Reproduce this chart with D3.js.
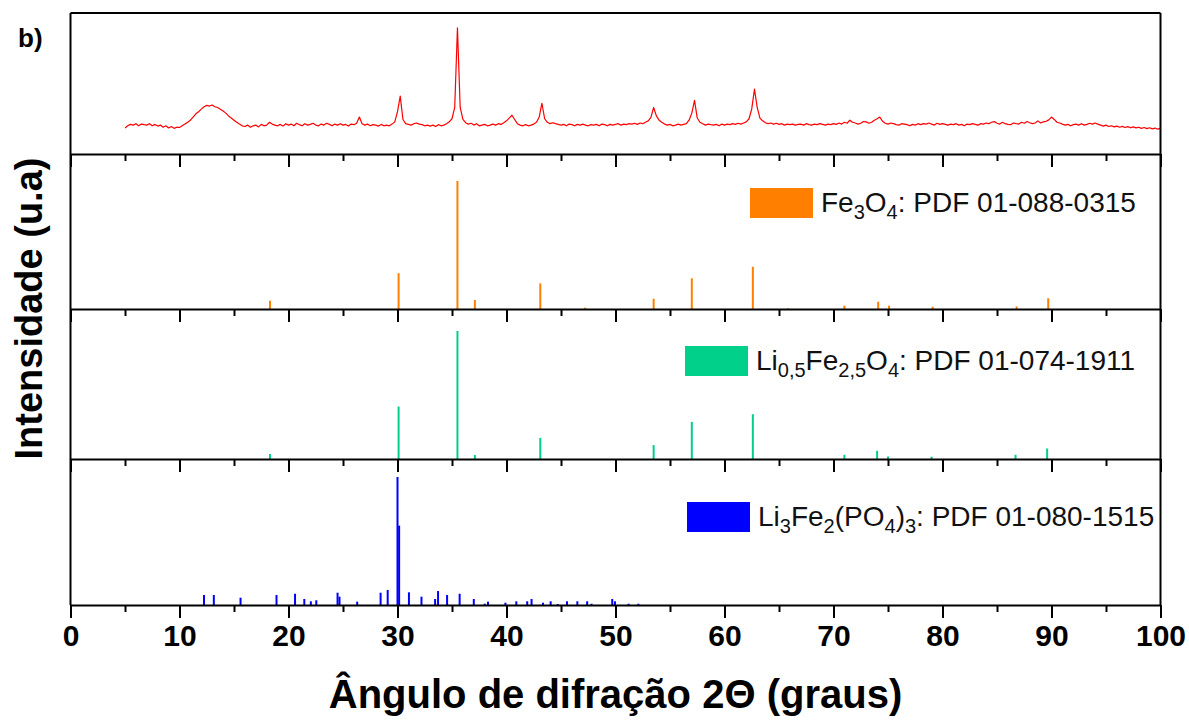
<!DOCTYPE html>
<html>
<head>
<meta charset="utf-8">
<script src="https://cdn.jsdelivr.net/npm/d3@7"></script>
<style>
  html, body { margin: 0; padding: 0; background: #fff; }
  svg { display: block; font-family: "Liberation Sans", Arial, sans-serif; }
</style>
</head>
<body>
<svg id="chart" width="1189" height="720"></svg>
<script>
// Difratograma experimental (vermelho): 5° a 100°, passo 0,25°
const expStart = 5, expStep = 0.25;
const expIntensity = [
  185, 200, 210, 205,  215, 200, 212, 208,  205, 215, 200, 210,  198, 205, 190, 200,  185, 195, 182, 190,
  188, 200, 212, 225,  240, 262, 285, 300,  318, 335, 345, 340,  348, 335, 330, 318,  305, 290, 270, 255,
  240, 225, 212, 200,  195, 205, 190, 200,  205, 192, 210, 200,  205, 225, 212, 205,  200, 210, 198, 215,
  205, 212, 200, 218,  208, 200, 215, 205,  210, 218, 205, 200,  212, 205, 218, 210,  200, 212, 205, 215,
  205, 210, 198, 212,  208, 218, 262, 215,  205, 212, 200, 208,  205, 198, 210, 200,  205, 200, 212, 228,
  300, 410, 245, 215,  210, 205, 215, 220,  212, 208, 200, 205,  198, 205, 195, 208,  200, 205, 215, 228,
  250, 330, 895, 330,  245, 222, 212, 218,  205, 215, 200, 205,  210, 200, 205, 212,  205, 215, 210, 222,
  235, 255, 275, 245,  215, 205, 200, 208,  200, 205, 212, 225,  262, 360, 250, 225,  215, 222, 215, 210,
  205, 210, 200, 212,  208, 200, 210, 205,  212, 205, 200, 208,  205, 210, 200, 212,  208, 200, 210, 205,
  210, 215, 205, 212,  208, 215, 212, 218,  210, 220, 215, 225,  235, 260, 330, 270,  240, 225, 212, 205,
  210, 200, 205, 212,  205, 210, 215, 240,  290, 380, 255, 225,  215, 205, 212, 208,  205, 210, 200, 212,
  205, 212, 208, 215,  210, 218, 212, 220,  228, 250, 320, 460,  330, 255, 235, 222,  215, 220, 212, 218,
  210, 215, 205, 212,  208, 212, 205, 210,  212, 205, 215, 208,  205, 212, 208, 215,  210, 205, 212, 208,
  215, 210, 220, 212,  225, 218, 240, 225,  220, 212, 218, 230,  228, 218, 225, 240,  250, 262, 232, 218,
  212, 220, 215, 208,  205, 215, 212, 208,  200, 210, 205, 215,  208, 215, 212, 220,  212, 205, 218, 210,
  215, 210, 205, 212,  208, 215, 205, 210,  200, 212, 208, 215,  210, 205, 215, 212,  220, 215, 225, 230,
  218, 212, 225, 215,  210, 208, 220, 215,  212, 225, 218, 230,  222, 215, 220, 235,  220, 228, 232, 242,
  262, 245, 225, 220,  212, 205, 210, 200,  208, 212, 205, 215,  205, 210, 218, 212,  220, 212, 205, 198,
  205, 195, 200, 192,  198, 190, 196, 188,  194, 186, 192, 185,  190, 182, 188, 180,  186, 178, 184, 176,
  182
];

// Fe3O4: PDF 01-088-0315 (posição 2θ, intensidade relativa)
const fe3o4Angle = [18.3, 30.1, 35.5, 37.1, 43.1, 47.2, 53.5, 57.0, 62.6, 65.8, 71.0, 74.1, 75.1, 79.1, 86.8, 89.7];
const fe3o4Int   = [6.5, 28, 100, 7, 20, 1, 8, 24, 33, 0.5, 2.6, 5.7, 2.6, 1.8, 2, 8.4];

// Li0,5Fe2,5O4: PDF 01-074-1911
const lifeAngle = [18.3, 30.1, 35.5, 37.1, 43.1, 53.5, 57.0, 62.6, 71.0, 74.0, 75.0, 79.0, 86.7, 89.6];
const lifeInt   = [3.9, 41, 100, 3.1, 16.5, 10.9, 29, 35, 3.3, 6.4, 2, 1.8, 3.3, 8.2];

// Li3Fe2(PO4)3: PDF 01-080-1515
const lfpAngle = [12.25, 13.15, 15.6, 18.9, 20.6, 21.45, 22.05, 22.55, 24.5, 24.68, 26.3, 28.45, 29.1, 30.0, 30.15,
                  31.05, 32.2, 33.45, 33.72, 34.55, 35.7, 37.0, 38.0, 38.3, 39.9, 40.9, 41.9, 42.3, 43.35, 44.05,
                  44.7, 45.55, 46.5, 47.4, 47.8, 49.7, 49.95, 51.2, 52.1];
const lfpInt   = [7.8, 7.8, 5.7, 7.8, 8.8, 4.7, 2.9, 3.7, 9.6, 6.5, 2.6, 9.6, 11.7, 100, 62,
                  9.9, 6.5, 4.7, 10.9, 7.8, 8.8, 4.7, 1, 2.6, 1.8, 2.9, 2.9, 4.7, 1.8, 2.9,
                  0.8, 2.9, 2.9, 2.9, 1, 4.7, 2.9, 1, 1];

// Legendas (texto, subscrito?)
const legendPhases = [
  [["Fe", 0], ["3", 1], ["O", 0], ["4", 1], [": PDF 01-088-0315", 0]],
  [["Li", 0], ["0,5", 1], ["Fe", 0], ["2,5", 1], ["O", 0], ["4", 1], [": PDF 01-074-1911", 0]],
  [["Li", 0], ["3", 1], ["Fe", 0], ["2", 1], ["(PO", 0], ["4", 1], [")", 0], ["3", 1], [": PDF 01-080-1515", 0]]
];
const xTicks = [0, 10, 20, 30, 40, 50, 60, 70, 80, 90, 100];

// Layout
const left = 70.5, right = 1160.5;
const bounds = [13, 154, 309, 459, 605];
const stickColors = ["#ff8000", "#00d08a", "#0000ff"];
const legendBox = [[750, 188], [685, 346], [687, 502]];

const svg = d3.select("#chart");
const x = d3.scaleLinear().domain([0, 100]).range([left, right]);

// Painel 1: curva experimental
const y0 = d3.scaleLinear().domain([0, 1000]).range([bounds[1], bounds[0]]);
const expPoints = expIntensity.map((v, i) => [expStart + i * expStep, v]);
svg.append("path")
    .datum(expPoints)
    .attr("fill", "none")
    .attr("stroke", "#ff0000")
    .attr("stroke-width", 1.2)
    .attr("stroke-linejoin", "round")
    .attr("d", d3.line().x(d => x(d[0])).y(d => y0(d[1])));

// Painéis 2-4: padrões de referência
const sticks = [
  [fe3o4Angle, fe3o4Int],
  [lifeAngle, lifeInt],
  [lfpAngle, lfpInt]
];
sticks.forEach(([ang, inten], k) => {
  const bottom = bounds[k + 2];
  const yk = d3.scaleLinear().domain([0, 100]).range([bottom, bottom - 128]);
  svg.append("g")
    .selectAll("line")
    .data(ang.map((a, i) => [a, inten[i]]))
    .join("line")
      .attr("x1", d => x(d[0]))
      .attr("x2", d => x(d[0]))
      .attr("y1", yk(0))
      .attr("y2", d => yk(d[1]))
      .attr("stroke", stickColors[k])
      .attr("stroke-width", 2);

  // legenda
  const [bx, by] = legendBox[k];
  svg.append("rect")
    .attr("x", bx).attr("y", by)
    .attr("width", 63).attr("height", 30)
    .attr("fill", stickColors[k]);
  const txt = svg.append("text")
    .attr("x", bx + 71)
    .attr("y", by + 24)
    .attr("font-size", 28)
    .attr("fill", "#111");
  let shift = 0;
  legendPhases[k].forEach(([t, sub]) => {
    const want = sub ? 7 : 0;
    txt.append("tspan")
      .attr("font-size", sub ? 20 : 28)
      .attr("dy", want - shift)
      .text(t);
    shift = want;
  });
});

// Eixos x de cada painel
bounds.slice(1).forEach((b, i) => {
  const last = i === bounds.length - 2;
  svg.append("g")
    .attr("transform", `translate(0,${b})`)
    .call(d3.axisBottom(x).tickValues(d3.range(5, 100, 10)).tickSize(7).tickFormat(""))
    .call(g => g.select(".domain").remove())
    .call(g => g.selectAll("line").attr("stroke-width", 2));
  const ax = svg.append("g")
    .attr("transform", `translate(0,${b})`)
    .call(d3.axisBottom(x).tickValues(xTicks).tickSize(13).tickSizeOuter(0)
      .tickFormat(last ? d3.format("d") : ""));
  ax.select(".domain").attr("stroke-width", 2);
  ax.selectAll("line").attr("stroke-width", 2);
  ax.selectAll("text")
    .attr("font-size", 30)
    .attr("font-weight", "bold")
    .attr("font-family", "Liberation Sans, Arial, sans-serif")
    .attr("fill", "#000")
    .attr("y", 20)
    .attr("dy", "0.71em");
});

// moldura
svg.append("line").attr("x1", left).attr("x2", right).attr("y1", bounds[0]).attr("y2", bounds[0])
  .attr("stroke", "#000").attr("stroke-width", 2);
[left, right].forEach(px => {
  svg.append("line").attr("x1", px).attr("x2", px).attr("y1", bounds[0]).attr("y2", bounds[4])
    .attr("stroke", "#000").attr("stroke-width", 2);
});

// Títulos
svg.append("text")
  .attr("x", (left + right) / 2)
  .attr("y", 708)
  .attr("text-anchor", "middle")
  .attr("font-size", 40)
  .attr("font-weight", "bold")
  .text("Ângulo de difração 2Θ (graus)");

svg.append("text")
  .attr("transform", `translate(42,${(bounds[1] + bounds[3]) / 2 + 2}) rotate(-90)`)
  .attr("text-anchor", "middle")
  .attr("font-size", 38)
  .attr("font-weight", "bold")
  .text("Intensidade (u.a)");

svg.append("text")
  .attr("x", 18)
  .attr("y", 47)
  .attr("font-size", 26)
  .attr("font-weight", "bold")
  .text("b)");
</script>
</body>
</html>
